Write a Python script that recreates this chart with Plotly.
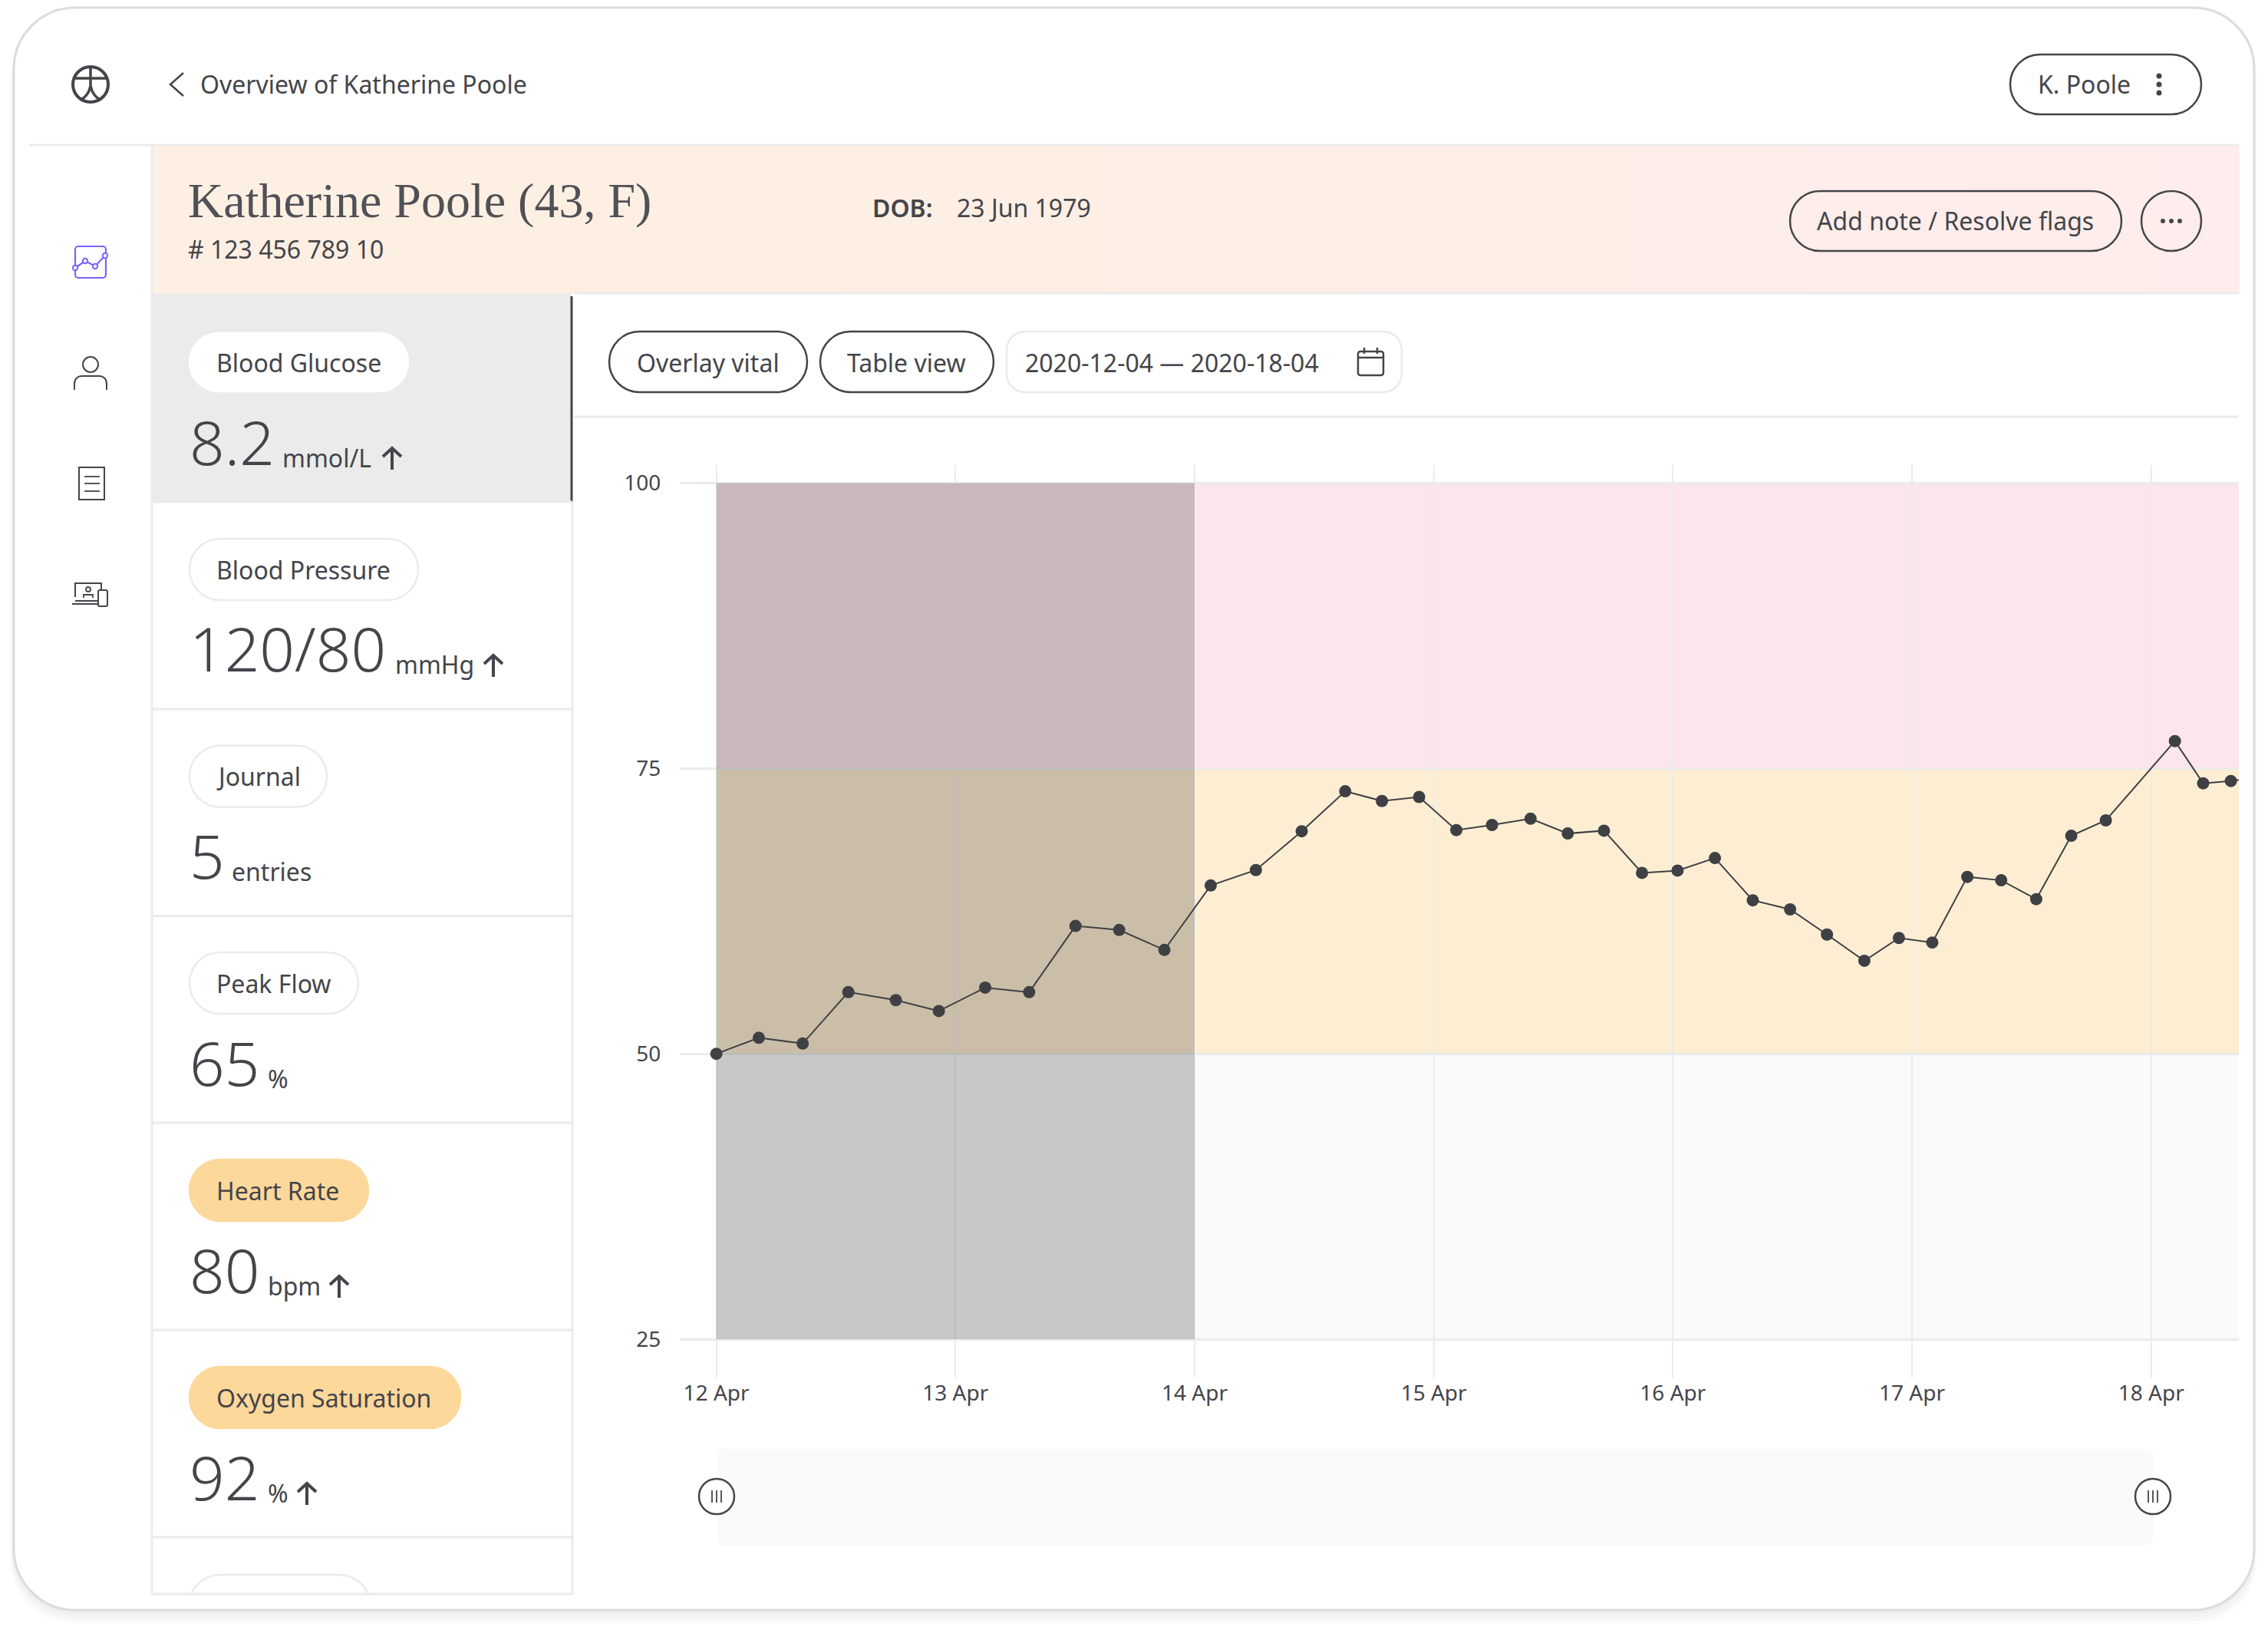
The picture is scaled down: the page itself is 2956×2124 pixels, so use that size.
import plotly.graph_objects as go

W = 2956
H = 2124

# Chart data
timestamps = [
    "2020-04-12 00:00", "2020-04-12 04:16", "2020-04-12 08:40", "2020-04-12 13:15",
    "2020-04-12 18:01", "2020-04-12 22:20", "2020-04-13 02:59", "2020-04-13 07:24",
    "2020-04-13 12:03", "2020-04-13 16:26", "2020-04-13 20:58", "2020-04-14 01:37",
    "2020-04-14 06:09", "2020-04-14 10:45", "2020-04-14 15:07", "2020-04-14 18:48",
    "2020-04-14 22:32", "2020-04-15 02:16", "2020-04-15 05:51", "2020-04-15 09:43",
    "2020-04-15 13:27", "2020-04-15 17:05", "2020-04-15 20:54", "2020-04-16 00:28",
    "2020-04-16 04:13", "2020-04-16 08:01", "2020-04-16 11:46", "2020-04-16 15:28",
    "2020-04-16 19:13", "2020-04-16 22:41", "2020-04-17 02:02", "2020-04-17 05:33",
    "2020-04-17 08:57", "2020-04-17 12:28", "2020-04-17 15:59", "2020-04-17 19:27",
    "2020-04-18 02:23", "2020-04-18 05:13", "2020-04-18 08:00", "2020-04-18 11:17",
]
glucose = [
    50.0, 51.4, 50.9, 55.4, 54.7, 53.75, 55.8, 55.4, 61.2, 60.85,
    59.1, 64.75, 66.1, 69.5, 73.0, 72.15, 72.5, 69.6, 70.05, 70.6,
    69.3, 69.55, 65.85, 66.05, 67.15, 63.45, 62.65, 60.45, 58.15, 60.15,
    59.75, 65.5, 65.2, 63.55, 69.1, 70.45, 77.4, 73.7, 73.9, 74.3,
]
date_ticks = [
    "2020-04-12", "2020-04-13", "2020-04-14", "2020-04-15",
    "2020-04-16", "2020-04-17", "2020-04-18",
]
date_labels = ["12 Apr", "13 Apr", "14 Apr", "15 Apr", "16 Apr", "17 Apr", "18 Apr"]
value_ticks = [25, 50, 75, 100]
band_limits = [25, 50, 75, 100]
selection_dates = ["2020-04-12", "2020-04-14"]

vital_names = ["Blood Glucose", "Blood Pressure", "Journal", "Peak Flow", "Heart Rate", "Oxygen Saturation"]
vital_values = ["8.2", "120/80", "5", "65", "80", "92"]
vital_units = ["mmol/L", "mmHg", "entries", "%", "bpm", "%"]

DARK = "#44454A"
LIGHT = "#EBEBEB"
PURPLE = "#7B61FF"
AMBER = "#FDD89B"
BAND_COLORS = ["#FAFAFA", "#FDEED3", "#FCE5EB"]


def px(x):
    return x / W


def py(y):
    return 1 - y / H


def poly(points, close=False):
    cmds = [f"{'M' if i == 0 else 'L'}{px(x):.5f},{py(y):.5f}" for i, (x, y) in enumerate(points)]
    return " ".join(cmds) + (" Z" if close else "")


def round_rect(x0, y0, x1, y1, r):
    k = r * 0.4477
    p = [
        ("M", x0 + r, y0), ("L", x1 - r, y0),
        ("C", x1 - k, y0, x1, y0 + k, x1, y0 + r),
        ("L", x1, y1 - r),
        ("C", x1, y1 - k, x1 - k, y1, x1 - r, y1),
        ("L", x0 + r, y1),
        ("C", x0 + k, y1, x0, y1 - k, x0, y1 - r),
        ("L", x0, y0 + r),
        ("C", x0, y0 + k, x0 + k, y0, x0 + r, y0),
    ]
    out = []
    for seg in p:
        nums = seg[1:]
        pairs = [f"{px(nums[i]):.5f},{py(nums[i + 1]):.5f}" for i in range(0, len(nums), 2)]
        out.append(seg[0] + " ".join(pairs))
    return " ".join(out) + " Z"


shapes = []
annotations = []


def add_path(path, color=DARK, width=2.5, fill=None):
    shapes.append(dict(
        type="path", path=path, xref="paper", yref="paper", layer="below",
        line=dict(color=color, width=width), fillcolor=fill or "rgba(0,0,0,0)",
    ))


def add_box(x0, y0, x1, y1, fill):
    shapes.append(dict(
        type="rect", xref="paper", yref="paper", layer="below",
        x0=px(x0), x1=px(x1), y0=py(y0), y1=py(y1),
        line=dict(width=0), fillcolor=fill,
    ))


def add_line(x0, y0, x1, y1, color=LIGHT, width=3):
    shapes.append(dict(
        type="line", xref="paper", yref="paper", layer="below",
        x0=px(x0), x1=px(x1), y0=py(y0), y1=py(y1),
        line=dict(color=color, width=width),
    ))


def add_circle(cx, cy, r, color=DARK, width=2.5, fill=None):
    shapes.append(dict(
        type="circle", xref="paper", yref="paper", layer="below",
        x0=px(cx - r), x1=px(cx + r), y0=py(cy - r), y1=py(cy + r),
        line=dict(color=color, width=width), fillcolor=fill or "rgba(0,0,0,0)",
    ))


def add_text(text, x, y, size=32, family="Noto Sans", weight=400, color=DARK):
    annotations.append(dict(
        text=text, x=px(x), y=py(y), xref="paper", yref="paper",
        xanchor="left", yanchor="middle", showarrow=False,
        font=dict(family=family, size=size, weight=weight, color=color),
    ))


# Device frame with a soft shadow
for i, alpha in enumerate([0.012, 0.014, 0.016, 0.02]):
    add_path(round_rect(17 - 4 + i, 9 + 12 - i * 2, 2938 + 4 - i, 2098 + 18 - i * 4, 82), color="rgba(0,0,0,0)", width=0,
             fill=f"rgba(0,0,0,{alpha})")
add_path(round_rect(18, 10, 2938, 2098, 80), color="#DCDCDC", width=3, fill="#FFFFFF")

# Top bar
add_line(38, 189, 2918, 189)
add_circle(118, 110, 23, width=4)
add_line(118, 87, 118, 113, DARK, 3.5)
add_line(97, 102, 139, 102, DARK, 3.5)
add_path(f"M{px(118):.5f},{py(112):.5f} C{px(116):.5f},{py(122):.5f} {px(110):.5f},{py(128):.5f} {px(105):.5f},{py(130):.5f}", width=3.5)
add_path(f"M{px(118):.5f},{py(112):.5f} C{px(120):.5f},{py(122):.5f} {px(126):.5f},{py(128):.5f} {px(131):.5f},{py(130):.5f}", width=3.5)
add_path(poly([(239, 95), (222, 110), (239, 125)]), width=2.5)
add_text("Overview of Katherine Poole", 259, 110)
add_path(round_rect(2620, 71, 2869, 149, 39), fill="#FFFFFF")
add_text("K. Poole", 2654, 110)
for dot_y in [99, 110, 121]:
    add_circle(2814, dot_y, 3.5, width=0, fill=DARK)

# Patient header, the gradient is done with thin strips
strips = 24
for i in range(strips):
    t = max(0, i / (strips - 1) - 0.3) / 0.7
    g = round(239 - 2 * t)
    b = round(227 + 9 * t)
    add_box(198 + (2918 - 198) * i / strips, 190, 198 + (2918 - 198) * (i + 1) / strips + 1, 382, f"rgb(254,{g},{b})")
add_text("Katherine Poole (43, F)", 243, 261, size=64, family="Liberation Serif", weight=400, color="#505156")
add_text("# 123 456 789 10", 243, 324)
add_text("DOB:", 1135, 270, weight=600, size=32)
add_text("23 Jun 1979", 1245, 270)
add_path(round_rect(2333, 249, 2765, 327, 39))
add_text("Add note / Resolve flags", 2366, 288)
add_circle(2830, 288, 39)
for dot_x in [2819, 2830, 2841]:
    add_circle(dot_x, 288, 3, width=0, fill=DARK)

# Left icons
add_path(round_rect(98, 321, 138, 362, 4), color=PURPLE, width=2.2)
add_path(poly([(98, 349), (111, 340), (124, 347), (137, 333)]), color=PURPLE, width=2.2)
for cx, cy in [(98, 349), (111, 340), (124, 347), (137, 333)]:
    add_circle(cx, cy, 3.2, color=PURPLE, width=2, fill="#FFFFFF")
add_circle(118, 475, 10, width=2)
add_path(f"M{px(97):.5f},{py(508):.5f} L{px(97):.5f},{py(500):.5f} C{px(97):.5f},{py(494):.5f} {px(101):.5f},{py(490):.5f} {px(107):.5f},{py(490):.5f} "
         f"L{px(129):.5f},{py(490):.5f} C{px(135):.5f},{py(490):.5f} {px(139):.5f},{py(494):.5f} {px(139):.5f},{py(500):.5f} L{px(139):.5f},{py(508):.5f}", width=2)
add_path(poly([(103, 609), (136, 609), (136, 651), (103, 651)], close=True), width=2)
for line_y in [621, 630, 640]:
    add_line(110, line_y, 130, line_y, DARK, 1.8)
add_path(poly([(98, 778), (98, 760), (132, 760), (132, 768)]), width=2)
add_line(98, 783, 128, 783, DARK, 2)
add_line(94, 787, 128, 787, DARK, 2)
add_path(round_rect(128, 769, 140, 790, 2), width=2)
add_circle(115, 768, 3, width=1.8)
add_path(poly([(109, 779), (109, 775), (121, 775), (121, 779)]), width=1.8)

# Vitals list
list_rows = [654, 924, 1193.5, 1463, 1733, 2003]
pill_right = [532, 545, 426, 467, 480, 600]
arrow_x = [511, 643, None, None, 442, 400]
unit_x = [366, 513, 300, 347, 347, 347]
filled = [False, False, False, False, True, True]

add_box(198, 382, 745, 654, LIGHT)
add_line(198, 190, 198, 2078)
add_line(746, 654, 746, 2078)
add_line(198, 2077, 747, 2077)
add_line(745, 386, 745, 654, DARK, 3)
add_line(748, 382, 2918, 382)
add_line(748, 543, 2918, 543)

for i, name in enumerate(vital_names):
    bottom = list_rows[i]
    top = bottom - 222
    fill = AMBER if filled[i] else "#FFFFFF"
    stroke = fill if i == 0 or filled[i] else LIGHT
    if i == 0:
        add_path(round_rect(247, top + 2, pill_right[i], top + 78, 38), color=stroke, width=2.5, fill=fill)
    else:
        add_path(round_rect(247, top, pill_right[i], top + 80, 40), color=stroke, width=2.5, fill=fill)
    add_text(name, 280, bottom - 182)
    add_text(vital_values[i], 245, bottom - 80, size=80, weight=300)
    add_text(vital_units[i], unit_x[i], bottom - 58)
    add_line(198, bottom, 746, bottom)
    if arrow_x[i] is not None:
        ax = arrow_x[i]
        ay = bottom - 70
        add_line(ax, ay, ax, ay + 28, DARK, 4)
        add_path(poly([(ax - 12, ay + 11), (ax, ay), (ax + 12, ay + 11)]), width=4)

# Row cut off at the bottom of the list
add_path(f"M{px(249):.5f},{py(2077):.5f} C{px(256):.5f},{py(2061):.5f} {px(272):.5f},{py(2052):.5f} {px(288):.5f},{py(2052):.5f} "
         f"L{px(441):.5f},{py(2052):.5f} C{px(457):.5f},{py(2052):.5f} {px(473):.5f},{py(2061):.5f} {px(480):.5f},{py(2077):.5f}", color=LIGHT)

# Toolbar
add_path(round_rect(794, 432, 1052, 511, 39.5))
add_text("Overlay vital", 828, 472)
add_path(round_rect(1069, 432, 1295, 511, 39.5))
add_text("Table view", 1102, 472)
add_path(round_rect(1312, 432, 1827, 511, 24), color=LIGHT)
add_text("2020-12-04 — 2020-18-04", 1334, 472)
add_path(round_rect(1770, 458, 1803, 489, 3), width=2.5)
add_line(1770, 466, 1803, 466, DARK, 2.5)
add_line(1778, 453, 1778, 461, DARK, 2.5)
add_line(1795, 453, 1795, 461, DARK, 2.5)

# Range slider under the chart
add_path(round_rect(935, 1888, 2806, 2014, 8), color="#FAFAFA", width=0, fill="#FAFAFA")
for cx in [934, 2806]:
    add_circle(cx, 1950, 23, fill="#FFFFFF")
    for off in [-6, 0, 6]:
        add_line(cx + off, 1942, cx + off, 1958, DARK, 1.8)

# Coloured ranges behind the line, in data coordinates
x_range = ["2020-04-11 20:20", "2020-04-18 08:48"]
for i, color in enumerate(BAND_COLORS):
    shapes.append(dict(
        type="rect", xref="x", yref="y", layer="below",
        x0=date_ticks[0], x1=x_range[1], y0=band_limits[i], y1=band_limits[i + 1],
        line=dict(width=0), fillcolor=color,
    ))
shapes.append(dict(
    type="rect", xref="x", yref="y", layer="between",
    x0=selection_dates[0], x1=selection_dates[1], y0=band_limits[0], y1=band_limits[-1],
    line=dict(width=0), fillcolor="rgba(0,0,0,0.2)",
))

fig = go.Figure()
fig.add_trace(
    go.Scatter(
        x=timestamps,
        y=glucose,
        mode="lines+markers",
        line=dict(color="#3F4044", width=2),
        marker=dict(color="#3F4044", size=16),
        showlegend=False,
    )
)

fig.update_layout(
    width=W,
    height=H,
    autosize=False,
    margin=dict(l=0, r=0, t=0, b=0),
    paper_bgcolor="#FFFFFF",
    plot_bgcolor="rgba(0,0,0,0)",
    font=dict(family="Noto Sans", size=28, color=DARK),
    shapes=shapes,
    annotations=annotations,
    xaxis=dict(
        type="date",
        domain=[px(886), px(2918)],
        range=x_range,
        tickvals=date_ticks,
        ticktext=date_labels,
        tickangle=0,
        ticks="",
        ticklabelstandoff=1,
        showgrid=True,
        gridcolor=LIGHT,
        gridwidth=2,
        zeroline=False,
        showline=False,
        automargin=False,
    ),
    yaxis=dict(
        domain=[py(1795), py(606)],
        range=[21.64, 101.58],
        tickvals=value_ticks,
        ticks="outside",
        ticklen=18,
        tickcolor="rgba(0,0,0,0)",
        showgrid=True,
        gridcolor=LIGHT,
        gridwidth=3,
        zeroline=False,
        showline=False,
        automargin=False,
    ),
)

fig.write_html(
    "out.html",
    config=dict(displayModeBar=False),
    post_script="document.body.style.margin='0';document.body.style.overflow='hidden';",
)
